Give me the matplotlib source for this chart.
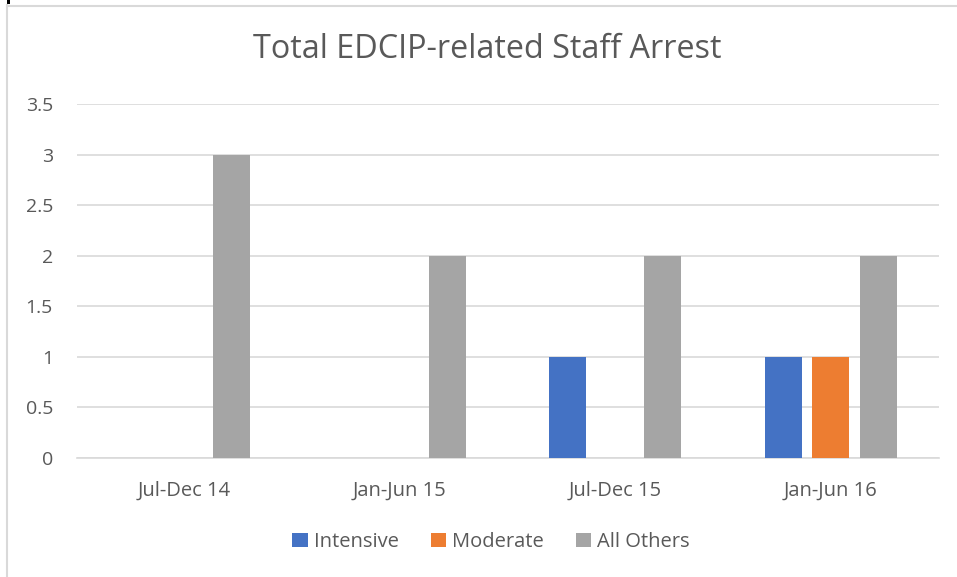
"""
Grouped bar chart: Total EDCIP-related Staff Arrest
"""

import numpy as np
import matplotlib.pyplot as plt
from matplotlib.lines import Line2D
from matplotlib.patches import Rectangle

categories = ['Jul-Dec 14', 'Jan-Jun 15', 'Jul-Dec 15', 'Jan-Jun 16']
intensive = [0, 0, 1, 1]
moderate = [0, 0, 0, 1]
all_others = [3, 2, 2, 2]
series_names = ['Intensive', 'Moderate', 'All Others']
yticks = [0, 0.5, 1, 1.5, 2, 2.5, 3, 3.5]
ytick_labels = ['0', '0.5', '1', '1.5', '2', '2.5', '3', '3.5']

colors = ['#4472C4', '#ED7D31', '#A5A5A5']
text_color = '#595959'
grid_color = '#D9D9D9'

plt.rcParams['font.family'] = ['Open Sans', 'DejaVu Sans']

W, H = 957, 577
fig = plt.figure(figsize=(W / 100, H / 100), dpi=100, facecolor='white')

# chart border (left and top visible)
fig.add_artist(Line2D([7.5 / W, 7.5 / W], [0, 1 - 5 / H], transform=fig.transFigure,
                      color=grid_color, lw=1.5))
fig.add_artist(Line2D([7.5 / W, 1], [1 - 5.5 / H, 1 - 5.5 / H], transform=fig.transFigure,
                      color=grid_color, lw=1.5))
fig.add_artist(Rectangle((7 / W, 1 - 4 / H), 3 / W, 4 / H, transform=fig.transFigure,
                         color='black', lw=0))

left, right = 76.5, 938.5
top, bottom = 104, 458
ax = fig.add_axes([left / W, 1 - bottom / H, (right - left) / W, (bottom - top) / H])

x = np.arange(len(categories))
width = 0.172
step = 0.22
for i, (vals, c, name) in enumerate(zip([intensive, moderate, all_others], colors, series_names)):
    ax.bar(x + (i - 1) * step, vals, width, color=c, label=name, zorder=3)

ax.set_xlim(-0.5, len(categories) - 0.5)
ax.set_ylim(0, 3.5)
ax.set_yticks(yticks)
ax.set_yticklabels(ytick_labels)
ax.set_xticks(x)
ax.set_xticklabels(categories)
ax.tick_params(axis='y', length=0, pad=17, labelsize=14, labelcolor=text_color)
ax.tick_params(axis='x', length=0, pad=16, labelsize=14.5, labelcolor=text_color)
ax.grid(axis='y', color=grid_color, lw=1.2, zorder=0)
for s in ['top', 'right', 'left']:
    ax.spines[s].set_visible(False)
ax.spines['bottom'].set_color(grid_color)
ax.spines['bottom'].set_linewidth(1.2)

fig.text(487 / W, 1 - 49 / H, 'Total EDCIP-related Staff Arrest', ha='center', va='center',
         fontsize=23.3, color=text_color)

fig.legend(loc='center', bbox_to_anchor=(491 / W, 1 - 542 / H), ncol=3, frameon=False,
           fontsize=14.5, labelcolor=text_color, handlelength=0.75, handleheight=0.75,
           handletextpad=0.3, columnspacing=1.6)

plt.savefig('out.png', dpi=100, facecolor='white')
